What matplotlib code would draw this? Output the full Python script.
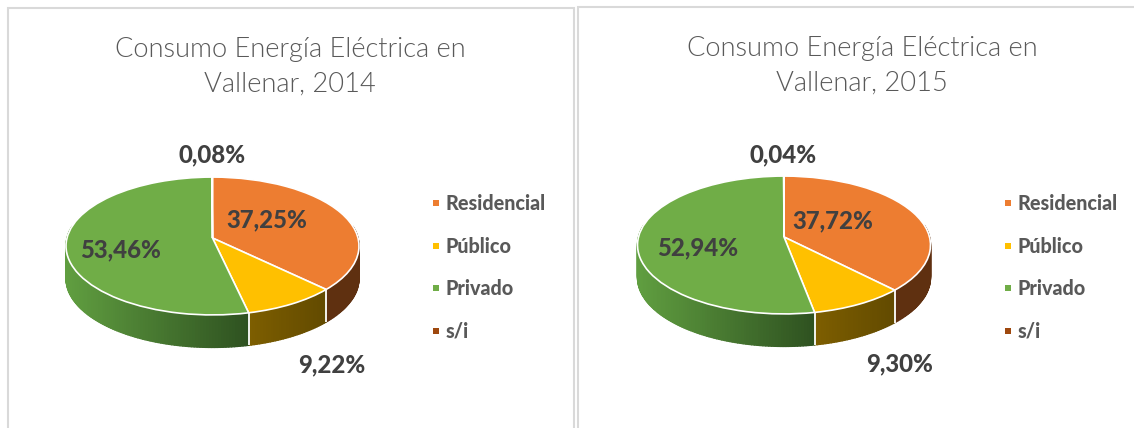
import numpy as np
import matplotlib
matplotlib.use("Agg")
import matplotlib.pyplot as plt
from matplotlib import font_manager as fm
from matplotlib.collections import PolyCollection
from matplotlib.colors import to_rgb
from matplotlib.lines import Line2D
from matplotlib.path import Path
from matplotlib.transforms import Transform

categories = ["Residencial", "Público", "Privado", "s/i"]
values_2014 = [37.25, 9.22, 53.46, 0.08]
values_2015 = [37.72, 9.30, 52.94, 0.04]
labels_2014 = ["37,25%", "9,22%", "53,46%", "0,08%"]
labels_2015 = ["37,72%", "9,30%", "52,94%", "0,04%"]
title_2014 = "Consumo Energía Eléctrica en\nVallenar, 2014"
title_2015 = "Consumo Energía Eléctrica en\nVallenar, 2015"

colors = ["#ed7d31", "#ffc000", "#70ad47", "#9e480e"]
side_left = ["#5f3010", "#7d5e00", "#609e40", "#5f3010"]
side_right = ["#5f3010", "#624a00", "#2e5120", "#5f3010"]

W, H = 1134, 428
SX, SY, B, DEPTH = 145.5, 68.0, 0.116, 32.5


def lato(styles, size, weight):
    for style in styles:
        for f in fm.fontManager.ttflist:
            if f.name == "Lato" and f.fname.endswith(f"Lato-{style}.ttf"):
                return fm.FontProperties(fname=f.fname, size=size)
    return fm.FontProperties(family="Lato", weight=weight, size=size)


class Perspective(Transform):
    input_dims = output_dims = 2
    has_inverse = False

    def __init__(self, cx, cy):
        super().__init__()
        self.cx, self.cy = cx, cy

    def transform_non_affine(self, values):
        v = np.asarray(values, float)
        w = 1 + B * v[:, 1]
        return np.column_stack((self.cx + SX * v[:, 0] / w, self.cy - SY * v[:, 1] / w))

    def transform_path_non_affine(self, path):
        return Path(self.transform_non_affine(path.vertices), path.codes)


plt.rcParams["font.family"] = ["Lato", "DejaVu Sans"]
fig = plt.figure(figsize=(W / 100, H / 100), dpi=100, facecolor="white")
ax = fig.add_axes([0, 0, 1, 1])


def draw_pie(values, cx, cy):
    persp = Perspective(cx, cy)
    total = sum(values)
    edges = np.concatenate(([0], np.cumsum(values))) / total * 2 * np.pi
    polys, faces, seams = [], [], []
    for i, (a, b) in enumerate(zip(edges[:-1], edges[1:])):
        a2, b2 = max(a, np.radians(80)), min(b, np.radians(280))
        if b2 <= a2:
            continue
        t = np.linspace(a2, b2, max(2, int(np.degrees(b2 - a2)) + 1))
        p = persp.transform_non_affine(np.column_stack((np.sin(t), np.cos(t))))
        xl, xr = p[:, 0].min(), p[:, 0].max()
        for j in range(len(t) - 1):
            q = p[j:j + 2]
            polys.append([q[0], q[1], q[1] + [0, DEPTH], q[0] + [0, DEPTH]])
            f = (q[:, 0].mean() - xl) / max(xr - xl, 1)
            faces.append((1 - f) * np.array(to_rgb(side_left[i])) + f * np.array(to_rgb(side_right[i])))
        if 90 < np.degrees(b) < 270:
            seams.append(persp.transform_non_affine(np.array([[np.sin(b), np.cos(b)]]))[0])
    ax.add_collection(PolyCollection(polys, facecolors=faces, edgecolors=faces, linewidths=1.0, zorder=1))
    for s in seams:
        ax.plot([s[0], s[0]], [s[1], s[1] + DEPTH], color="white", lw=1.3, zorder=1.5, solid_capstyle="butt")
    wedges, _ = ax.pie(values, colors=colors, startangle=90, counterclock=False, radius=1,
                       wedgeprops={"edgecolor": "white", "linewidth": 1.2})
    for wd in wedges:
        wd.set_transform(persp + ax.transData)
        wd.set_clip_on(False)
        wd.set_zorder(2)


draw_pie(values_2014, 212.5, 238)
draw_pie(values_2015, 784, 237)

ax.set_aspect("auto")
ax.set_xlim(0, W)
ax.set_ylim(H, 0)
ax.set_axis_off()

# panel borders
border = dict(color="#d9d9d9", lw=1.5, zorder=0, solid_joinstyle="miter")
ax.plot([7.5, 7.5, 574, 574], [H, 8, 8, H], **border)
ax.plot([578, 578, W], [H, 7, 7], **border)

title_font = lato(["Light"], 19.6, "normal")
title_style = dict(ha="center", va="center", color="#595959", linespacing=1.46, fontproperties=title_font)
ax.text(290, 67, title_2014, **title_style)
ax.text(862, 66, title_2015, **title_style)

label_font = lato(["Heavy", "Bold"], 17.3, "bold")
lab = dict(ha="center", va="center", color="#404040", zorder=5, fontproperties=label_font)
pos_2014 = [(267, 220), (332, 365), (121, 250), (212, 155)]
pos_2015 = [(833, 221), (900, 364), (698, 248), (783, 155)]
for txt, (x, y) in zip(labels_2014, pos_2014):
    ax.text(x, y, txt, **lab)
for txt, (x, y) in zip(labels_2015, pos_2015):
    ax.text(x, y, txt, **lab)

handles = [Line2D([], [], ls="", marker="s", ms=4.3, color=c, mew=0) for c in colors]
for x0 in (430, 1002):
    leg = fig.legend(handles, categories, loc="center left", bbox_to_anchor=(x0 / W, 1 - 267.5 / H),
                     frameon=False, labelspacing=1.2, handlelength=0.6,
                     handletextpad=0.2, borderpad=0, borderaxespad=0,
                     prop=lato(["Heavy", "Bold"], 14.2, "bold"))
    for t in leg.get_texts():
        t.set_color("#595959")

fig.savefig("out.png", dpi=100, facecolor="white")
